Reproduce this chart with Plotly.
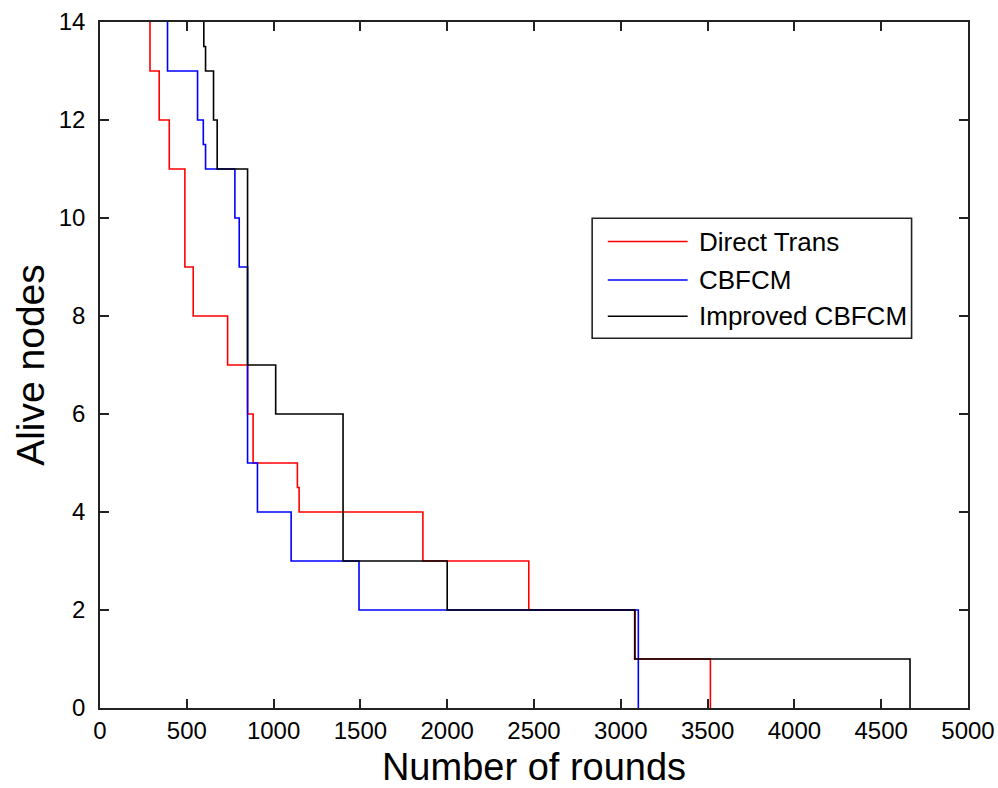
import plotly.graph_objects as go

# Rounds at which the number of alive nodes changes, and the count after each change
direct_rounds = [288, 288, 341, 399, 489, 537, 735, 850, 882, 1137, 1147, 1860, 2470, 3082, 3516]
direct_alive = [14, 13, 12, 11, 9, 8, 7, 6, 5, 4.5, 4, 3, 2, 1, 0]

cbfcm_rounds = [389, 389, 562, 595, 608, 777, 802, 850, 907, 1101, 1492, 3101]
cbfcm_alive = [14, 13, 12, 11.5, 11, 10, 9, 5, 4, 3, 2, 0]

improved_rounds = [598, 598, 608, 654, 675, 850, 1012, 1400, 2000, 3080, 4666]
improved_alive = [14, 13.5, 13, 12, 11, 7, 6, 3, 2, 1, 0]

series_names = ["Direct Trans", "CBFCM", "Improved CBFCM"]
series_colors = ["#FF0000", "#0000FF", "#000000"]

x_ticks = [0, 500, 1000, 1500, 2000, 2500, 3000, 3500, 4000, 4500, 5000]
y_ticks = [0, 2, 4, 6, 8, 10, 12, 14]

FONT = "Liberation Sans, Arial, sans-serif"

fig = go.Figure()
for name, color, xs, ys in zip(
    series_names,
    series_colors,
    [direct_rounds, cbfcm_rounds, improved_rounds],
    [direct_alive, cbfcm_alive, improved_alive],
):
    fig.add_trace(
        go.Scatter(
            x=xs,
            y=ys,
            mode="lines",
            name=name,
            line=dict(color=color, width=1.6, shape="hv"),
            showlegend=False,
        )
    )

axis_common = dict(
    showgrid=False,
    zeroline=False,
    showline=True,
    linecolor="#222222",
    linewidth=1.6,
    mirror="ticks",
    ticks="inside",
    ticklen=9,
    tickwidth=1.6,
    tickcolor="#222222",
    tickfont=dict(family=FONT, size=24, color="#000000"),
)

fig.update_xaxes(
    range=[0, 5000],
    tickvals=x_ticks,
    ticktext=[str(v) for v in x_ticks],
    title=dict(text="Number of rounds", font=dict(family=FONT, size=38, color="#000000"), standoff=12),
    ticklabelstandoff=0,
    **axis_common,
)
fig.update_yaxes(
    range=[0, 14],
    tickvals=y_ticks,
    ticktext=[str(v) for v in y_ticks],
    title=dict(text="Alive nodes", font=dict(family=FONT, size=39, color="#000000"), standoff=2),
    ticklabelstandoff=8,
    **axis_common,
)

# Legend box drawn in paper coordinates
box_x0, box_x1 = 0.567, 0.935
box_y0, box_y1 = 0.539, 0.714
line_x0, line_x1 = 0.585, 0.677
text_x = 0.688
row_y = [0.680, 0.624, 0.571]

fig.add_shape(
    type="rect", xref="paper", yref="paper",
    x0=box_x0, x1=box_x1, y0=box_y0, y1=box_y1,
    line=dict(color="#222222", width=1.6), fillcolor="white", layer="above",
)
for name, color, ry in zip(series_names, series_colors, row_y):
    fig.add_shape(
        type="line", xref="paper", yref="paper",
        x0=line_x0, x1=line_x1, y0=ry, y1=ry,
        line=dict(color=color, width=1.6), layer="above",
    )
    fig.add_annotation(
        xref="paper", yref="paper", x=text_x, y=ry,
        text=name, showarrow=False, xanchor="left", yanchor="middle",
        font=dict(family=FONT, size=26, color="#000000"),
    )

fig.update_layout(
    width=998,
    height=788,
    margin=dict(l=100, r=30, t=22, b=80, autoexpand=False),
    paper_bgcolor="white",
    plot_bgcolor="white",
)

fig.write_html("out.html")
